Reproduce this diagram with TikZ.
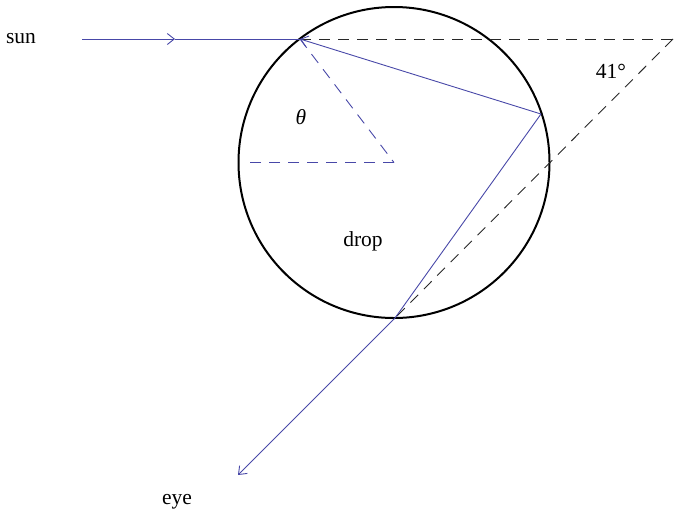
\documentclass[tikz,border=0pt]{standalone}
\usepackage{fontspec}
\setmainfont{Liberation Serif}
\usetikzlibrary{arrows.meta}
\definecolor{ray}{RGB}{72,72,168}
\definecolor{dashk}{RGB}{40,40,40}
\tikzset{
  raypath/.style={draw=ray, line width=0.9pt},
  raytip/.style={-{Straight Barb[length=7pt,width=11pt,line width=0.9pt]}},
  bluedash/.style={draw=ray, line width=0.9pt, dash pattern=on 11pt off 8pt},
  blackdash/.style={draw=dashk, line width=0.9pt, dash pattern=on 11pt off 8pt},
  lbl/.style={inner sep=0pt, font=\fontsize{21.5}{26}\selectfont},
  dropline/.style={draw=black, line width=2pt}
}
\begin{document}
\begin{tikzpicture}[x=1pt,y=-1pt]
\useasboundingbox (0,0) rectangle (682,520);
% drop
\coordinate (O) at (394,162.5);
\draw[dropline] (O) circle[radius=155.5];
% key points
\coordinate (A) at (300,39);
\coordinate (B) at (541,114);
\coordinate (C) at (395,318);
\coordinate (S) at (82,39);
\coordinate (M) at (175,39);
\coordinate (E) at (238,475);
\coordinate (T) at (673,39);
\coordinate (H) at (245,162.5);
% construction lines
\draw[blackdash] (A) -- (T);
\draw[blackdash] (T) -- (C);
\draw[bluedash] (A) -- (O);
\draw[bluedash] (O) -- (H);
% ray
\draw[raypath, raytip] (S) -- (M);
\draw[raypath] (M) -- (A);
\draw[raypath, raytip] (B) -- (A);
\draw[raypath] (B) -- (C);
\draw[raypath, raytip] (C) -- (E);
% labels
\node[lbl] (sun) at (21,39) {sun};
\node[lbl] (theta) at (301,117) {\itshape θ};
\node[lbl] (drop) at (363,241) {drop};
\node[lbl] (ang) at (611,71) {41°};
\node[lbl] (eye) at (177,502) {eye};
\end{tikzpicture}
\end{document}
